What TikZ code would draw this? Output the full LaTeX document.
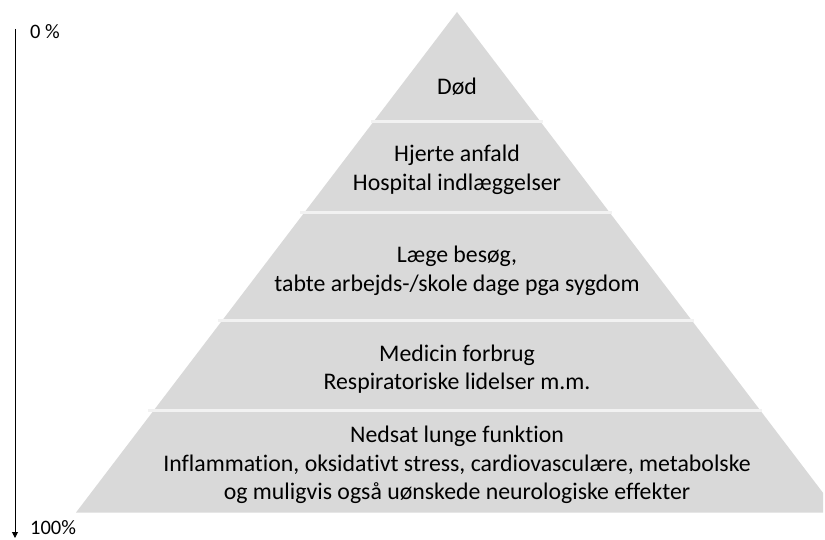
\documentclass[tikz,border=0pt]{standalone}
\usepackage{fontspec}
\setmainfont{Carlito}[Ligatures=NoCommon]
\usetikzlibrary{arrows.meta}
\begin{document}
\begin{tikzpicture}[x=1pt,y=-1pt,
  pyr/.style={fill=pyrgray},
  sep/.style={draw=sepwhite,line width=3pt},
  layertext/.style={align=center,inner sep=0pt,font=\fontsize{23.8}{28.5}\selectfont},
  scaletext/.style={anchor=west,inner sep=0pt,font=\fontsize{20.5}{22}\selectfont},
  axisarrow/.style={draw=black,line width=1pt,-{Triangle[length=6pt,width=6pt]}}]
\definecolor{pyrgray}{HTML}{D9D9D9}
\definecolor{sepwhite}{HTML}{F2F2F2}
\useasboundingbox (0,0) rectangle (825,540);
\begin{scope}
  \clip (0,0) rectangle (823,540);
  \fill[pyr] (457,12) -- (76,512.5) -- (838,512.5) -- cycle;
\end{scope}
\draw[sep] (371,122) -- (543,122);
\draw[sep] (300,213) -- (612,213);
\draw[sep] (218,320) -- (694,320);
\draw[sep] (148,410) -- (762,410);
\node[layertext] (l1) at (457,87) {Død};
\node[layertext] (l2) at (457,170) {Hjerte anfald\\Hospital indlæggelser};
\node[layertext] (l3) at (457,271) {Læge besøg,\\tabte arbejds-/skole dage pga sygdom};
\node[layertext] (l4) at (457,369) {Medicin forbrug\\Respiratoriske lidelser m.m.};
\node[layertext] (l5) at (457,465) {Nedsat lunge funktion\\Inflammation, oksidativt stress, cardiovasculære, metabolske\\og muligvis også uønskede neurologiske effekter};
\node[scaletext] (top) at (30,32) {0 \%};
\node[scaletext] (bot) at (30,528) {100\%};
\coordinate (atop) at (15,29);
\coordinate (abot) at (15,538);
\draw[axisarrow] (atop) -- (abot);
\end{tikzpicture}
\end{document}
